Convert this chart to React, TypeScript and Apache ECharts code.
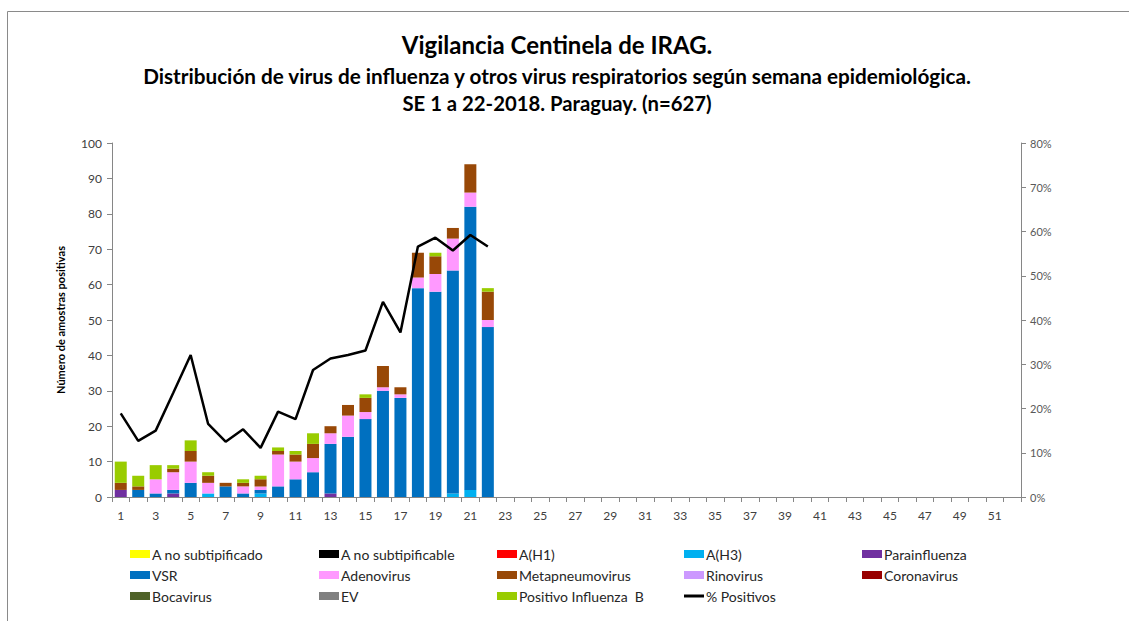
import React, { useEffect, useRef } from "react";
import * as echarts from "echarts";

const weeks: string[] = Array.from({ length: 52 }, (_, i) => String(i + 1));

const aNoSubtipificado: number[] = [0,0,0,0,0,0,0,0,0,0,0,0,0,0,0,0,0,0,0,0,0,0];
const aNoSubtipificable: number[] = [0,0,0,0,0,0,0,0,0,0,0,0,0,0,0,0,0,0,0,0,0,0];
const aH1: number[] = [0,0,0,0,0,0,0,0,0,0,0,0,0,0,0,0,0,0,0,0,0,0];
const aH3: number[] = [0,0,0,0,0,1,0,0,1,0,0,0,0,0,0,0,0,0,0,1,2,0];
const parainfluenza: number[] = [2,0,0,1,0,0,0,0,0,0,0,0,1,0,0,0,0,0,0,0,0,0];
const vsr: number[] = [0,2,1,1,4,0,3,1,1,3,5,7,14,17,22,30,28,59,58,63,80,48];
const adenovirus: number[] = [0,0,4,5,6,3,0,2,1,9,5,4,3,6,2,1,1,3,5,9,4,2];
const metapneumovirus: number[] = [2,1,0,1,3,2,1,1,2,1,2,4,2,3,4,6,2,7,5,3,8,8];
const rinovirus: number[] = [0,0,0,0,0,0,0,0,0,0,0,0,0,0,0,0,0,0,0,0,0,0];
const coronavirus: number[] = [0,0,0,0,0,0,0,0,0,0,0,0,0,0,0,0,0,0,0,0,0,0];
const bocavirus: number[] = [0,0,0,0,0,0,0,0,0,0,0,0,0,0,0,0,0,0,0,0,0,0];
const ev: number[] = [0,0,0,0,0,0,0,0,0,0,0,0,0,0,0,0,0,0,0,0,0,0];
const influenzaB: number[] = [6,3,4,1,3,1,0,1,1,1,1,3,0,0,1,0,0,0,1,0,0,1];
const pctPositivos: number[] = [18.9,12.7,15.0,23.5,32.1,16.5,12.5,15.3,11.1,19.3,17.6,28.7,31.3,32.1,33.1,44.1,37.2,56.6,58.6,55.7,59.2,56.6];

const barSeriesDefs: { name: string; color: string; data: number[] }[] = [
  { name: "A no subtipificado", color: "#FFFF00", data: aNoSubtipificado },
  { name: "A no subtipificable", color: "#000000", data: aNoSubtipificable },
  { name: "A(H1)", color: "#FF0000", data: aH1 },
  { name: "A(H3)", color: "#00B0F0", data: aH3 },
  { name: "Parainfluenza", color: "#7030A0", data: parainfluenza },
  { name: "VSR", color: "#0070C0", data: vsr },
  { name: "Adenovirus", color: "#FF99FF", data: adenovirus },
  { name: "Metapneumovirus", color: "#984807", data: metapneumovirus },
  { name: "Rinovirus", color: "#CC99FF", data: rinovirus },
  { name: "Coronavirus", color: "#990000", data: coronavirus },
  { name: "Bocavirus", color: "#4F6228", data: bocavirus },
  { name: "EV", color: "#808080", data: ev },
  { name: "Positivo Influenza  B", color: "#99CC00", data: influenzaB },
];

const legendLayout: { name: string; left: number; top: number }[] = [
  { name: "A no subtipificado", left: 130, top: 547 },
  { name: "A no subtipificable", left: 319, top: 547 },
  { name: "A(H1)", left: 497, top: 547 },
  { name: "A(H3)", left: 684, top: 547 },
  { name: "Parainfluenza", left: 862, top: 547 },
  { name: "VSR", left: 130, top: 568 },
  { name: "Adenovirus", left: 319, top: 568 },
  { name: "Metapneumovirus", left: 497, top: 568 },
  { name: "Rinovirus", left: 684, top: 568 },
  { name: "Coronavirus", left: 862, top: 568 },
  { name: "Bocavirus", left: 130, top: 589 },
  { name: "EV", left: 319, top: 589 },
  { name: "Positivo Influenza  B", left: 497, top: 589 },
  { name: "% Positivos", left: 684, top: 589 },
];

const FONT = "Lato, 'Open Sans', sans-serif";

export default function App() {
  const ref = useRef<HTMLDivElement>(null);
  useEffect(() => {
    if (!ref.current) return;
    const chart = echarts.init(ref.current, null, { renderer: "svg" });
    const series: any[] = barSeriesDefs.map((s) => ({
      name: s.name,
      type: "bar",
      stack: "total",
      data: s.data,
      barWidth: 12,
      itemStyle: { color: s.color },
      yAxisIndex: 0,
    }));
    series.push({
      name: "% Positivos",
      type: "line",
      data: pctPositivos,
      yAxisIndex: 1,
      symbol: "none",
      lineStyle: { color: "#000000", width: 2.5 },
      itemStyle: { color: "#000000" },
    });
    const legends = legendLayout.map((l) => {
      const isLine = l.name === "% Positivos";
      return {
        data: [{ name: l.name, icon: "rect", itemStyle: { color: isLine ? "#000000" : undefined } }],
        left: l.left,
        top: l.top,
        padding: 0,
        itemWidth: 20,
        itemHeight: isLine ? 3 : 8,
        textStyle: { fontSize: 14, color: "#262626", fontFamily: FONT, padding: [0, 0, 0, -3] },
      };
    });
    chart.setOption({
      animation: false,
      backgroundColor: "#ffffff",
      textStyle: { fontFamily: FONT },
      title: [
        { text: "Vigilancia Centinela de IRAG.", left: 557, top: 32, textAlign: "center", padding: 0,
          textStyle: { fontSize: 24, fontWeight: "bold", color: "#000", fontFamily: FONT } },
        { text: "Distribución de virus de influenza y otros virus respiratorios según semana epidemiológica.", left: 557, top: 65, textAlign: "center", padding: 0,
          textStyle: { fontSize: 20.7, fontWeight: "bold", color: "#000", fontFamily: FONT } },
        { text: "SE 1 a 22-2018. Paraguay. (n=627)", left: 557, top: 93, textAlign: "center", padding: 0,
          textStyle: { fontSize: 20.3, fontWeight: "bold", color: "#000", fontFamily: FONT } },
      ],
      legend: legends,
      grid: { left: 112, right: 108, top: 143, bottom: 124, containLabel: false },
      xAxis: {
        type: "category",
        data: weeks,
        boundaryGap: true,
        axisLine: { lineStyle: { color: "#868686", width: 1 } },
        axisTick: { show: true, interval: 0, length: 5, lineStyle: { color: "#868686" } },
        axisLabel: { interval: 1, fontSize: 12, color: "#404040", margin: 12, fontFamily: FONT },
      },
      yAxis: [
        {
          type: "value",
          min: 0,
          max: 100,
          interval: 10,
          name: "Número de amostras positivas",
          nameLocation: "middle",
          nameGap: 46,
          nameRotate: 90,
          nameTextStyle: { fontSize: 11, fontWeight: "bold", color: "#000", fontFamily: FONT },
          axisLine: { show: true, lineStyle: { color: "#868686" } },
          axisTick: { show: true, length: 5, lineStyle: { color: "#868686" } },
          splitLine: { show: false },
          axisLabel: { fontSize: 12, color: "#404040", margin: 10, fontFamily: FONT },
        },
        {
          type: "value",
          min: 0,
          max: 80,
          interval: 10,
          position: "right",
          axisLine: { show: true, lineStyle: { color: "#868686" } },
          axisTick: { show: true, length: 5, lineStyle: { color: "#868686" } },
          splitLine: { show: false },
          axisLabel: { formatter: "{value}%", fontSize: 11, color: "#595959", margin: 9, fontFamily: FONT },
        },
      ],
      graphic: [
        { type: "line", shape: { x1: 7.5, y1: 11.5, x2: 1129, y2: 11.5 }, style: { stroke: "#8a8a8a", lineWidth: 1 } },
        { type: "line", shape: { x1: 7.5, y1: 11.5, x2: 7.5, y2: 621 }, style: { stroke: "#8a8a8a", lineWidth: 1 } },
      ],
      series,
    });
    return () => chart.dispose();
  }, []);
  return (
    <div
      ref={ref}
      style={{ position: "fixed", left: 0, top: 0, width: 1129, height: 621, background: "#fff" }}
    />
  );
}
